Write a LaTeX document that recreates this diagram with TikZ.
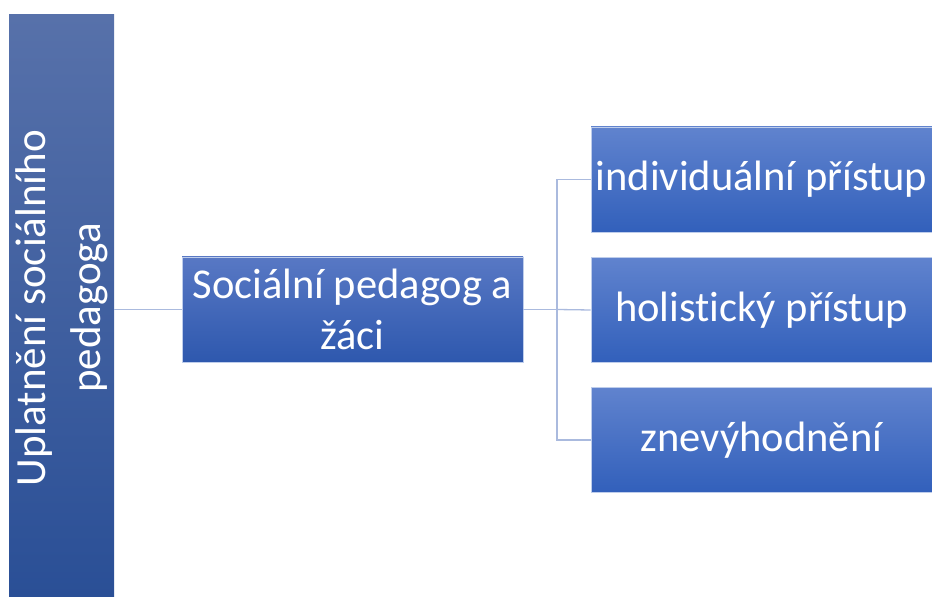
\documentclass[tikz,border=0pt]{standalone}
\usepackage{fontspec}
\setmainfont{Carlito}[Ligatures=NoCommon]
\usetikzlibrary{positioning}
\definecolor{bartop}{RGB}{87,113,170}
\definecolor{barbot}{RGB}{42,79,150}
\definecolor{boxtop}{RGB}{96,131,206}
\definecolor{boxbot}{RGB}{50,96,187}
\definecolor{midtop}{RGB}{88,120,196}
\definecolor{midbot}{RGB}{46,88,174}
\definecolor{edge}{RGB}{170,186,222}
\definecolor{rim}{RGB}{190,205,235}
\tikzset{
  box/.style={rectangle, draw=rim, line width=0.8pt, top color=boxtop, bottom color=boxbot,
    minimum width=341pt, minimum height=105pt, inner sep=0pt, text=white, align=center,
    font=\fontsize{42.5}{51}\selectfont},
  midbox/.style={box, top color=midtop, bottom color=midbot},
  barbox/.style={rectangle, draw=none, top color=bartop, bottom color=barbot,
    minimum width=105pt, minimum height=582pt, inner sep=0pt},
  bartext/.style={text=white, align=center, rotate=90, font=\fontsize{43}{55}\selectfont},
  conn/.style={draw=edge, line width=1.3pt}
}
\begin{document}
\begin{tikzpicture}[x=1pt,y=1pt]
\useasboundingbox (0,0) rectangle (932,597);
\node[barbox] (bar) at (61.5,291) {};
\node[bartext] (bart) at (62,289) {Uplatnění sociálního\\pedagoga};
\node[midbox] (mid) at (352.5,287.5) {Sociální pedagog a\\žáci};
\node[box] (r1) at (761.5,417.5) {individuální přístup};
\node[box] (r2) at (761.5,287) {holist\kern0pt ický přístup};
\node[box] (r3) at (761.5,157) {znevýhodnění};
\coordinate (j) at (557,287.5);
\draw[conn] (bar.east |- mid.west) -- (mid.west);
\draw[conn] (mid.east) -- (j);
\draw[conn] (j) |- (r1.west);
\draw[conn] (j) |- (r3.west);
\draw[conn] (j) -- (r2.west);
\end{tikzpicture}
\end{document}
